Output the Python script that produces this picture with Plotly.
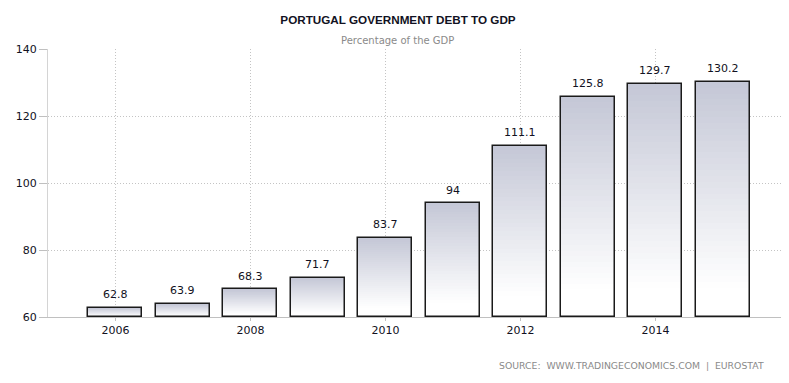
import plotly.graph_objects as go

years = [2006, 2007, 2008, 2009, 2010, 2011, 2012, 2013, 2014, 2015]
debt = [62.8, 63.9, 68.3, 71.7, 83.7, 94.0, 111.1, 125.8, 129.7, 130.2]
labels = ["62.8", "63.9", "68.3", "71.7", "83.7", "94", "111.1", "125.8", "129.7", "130.2"]
y_ticks = [60, 80, 100, 120, 140]
x_ticks = [2006, 2008, 2010, 2012, 2014]

BASE = 60
N = 40
top_rgb = (196, 199, 214)
bot_rgb = (255, 255, 255)
BW = 0.8

# page has an 8px body margin: figure coords = page coords - 8
W, H = 781, 375
L, R, T, B = 40, 0, 41, 66
PW, PH = W - L - R, H - T - B

fig = go.Figure()

for k in range(N):
    t = (k + 0.5) / N
    f = min(max((t - 0.12) / 0.88, 0), 1)
    r = round(bot_rgb[0] + (top_rgb[0] - bot_rgb[0]) * f)
    g = round(bot_rgb[1] + (top_rgb[1] - bot_rgb[1]) * f)
    b = round(bot_rgb[2] + (top_rgb[2] - bot_rgb[2]) * f)
    fig.add_trace(go.Bar(
        x=years,
        y=[(v - BASE) / N * 1.0001 for v in debt],
        base=[BASE + (v - BASE) * k / N for v in debt],
        width=BW,
        marker=dict(color=f"rgb({r},{g},{b})", line=dict(width=0)),
        hoverinfo="skip",
        showlegend=False,
    ))

fig.add_trace(go.Bar(
    x=years,
    y=[v - BASE for v in debt],
    base=[BASE] * len(debt),
    width=BW,
    marker=dict(color="rgba(0,0,0,0)", line=dict(color="#1a1a1a", width=1.5)),
    showlegend=False,
))

for x, v, lab in zip(years, debt, labels):
    fig.add_annotation(x=x, y=v, text=lab, showarrow=False, yshift=13,
                       font=dict(family="DejaVu Sans", size=11, color="#111122"))

fig.update_layout(
    width=W, height=H,
    margin=dict(l=L, r=R, t=T, b=B, autoexpand=False),
    paper_bgcolor="white", plot_bgcolor="white",
    barmode="overlay",
    bargap=0,
    font=dict(family="DejaVu Sans", size=11, color="#111122"),
    title=dict(text="PORTUGAL GOVERNMENT DEBT TO GDP",
               font=dict(family="Liberation Sans", size=11.7, color="#111122", weight="bold"),
               x=390 / W, xanchor="center", xref="container",
               y=1 - 12 / H, yanchor="middle", yref="container"),
    xaxis=dict(range=[2005, 2015.98], tickvals=x_ticks, ticktext=[str(t) for t in x_ticks],
               showgrid=True, gridcolor="#c4c4c4", griddash="1px,2px", gridwidth=1,
               showline=True, linecolor="#c0c0c0", linewidth=1,
               ticks="outside", ticklen=3, tickcolor="#c0c0c0",
               tickfont=dict(size=11, color="#111122"), zeroline=False, fixedrange=True),
    yaxis=dict(range=[60, 140], tickvals=y_ticks,
               showgrid=True, gridcolor="#c4c4c4", griddash="1px,2px", gridwidth=1,
               showline=True, linecolor="#d4d4d4", linewidth=1,
               ticks="outside", ticklen=8, tickcolor="#c0c0c0",
               tickfont=dict(size=11, color="#111122"), zeroline=False, fixedrange=True),
)

fig.add_annotation(text="Percentage of the GDP", xref="paper", yref="paper",
                   x=(389 - L) / PW, y=1 + (T - 32) / PH, xanchor="center", yanchor="middle",
                   showarrow=False, font=dict(family="DejaVu Sans", size=10, color="#8a8a8a"))
fig.add_annotation(text="SOURCE:  WWW.TRADINGECONOMICS.COM  |  EUROSTAT", xref="paper", yref="paper",
                   x=(758 - L) / PW, y=-(357 - (T + PH)) / PH, xanchor="right", yanchor="middle",
                   showarrow=False, font=dict(family="DejaVu Sans", size=9.3, color="#8a8a8a"))

fig.write_html("out.html")
